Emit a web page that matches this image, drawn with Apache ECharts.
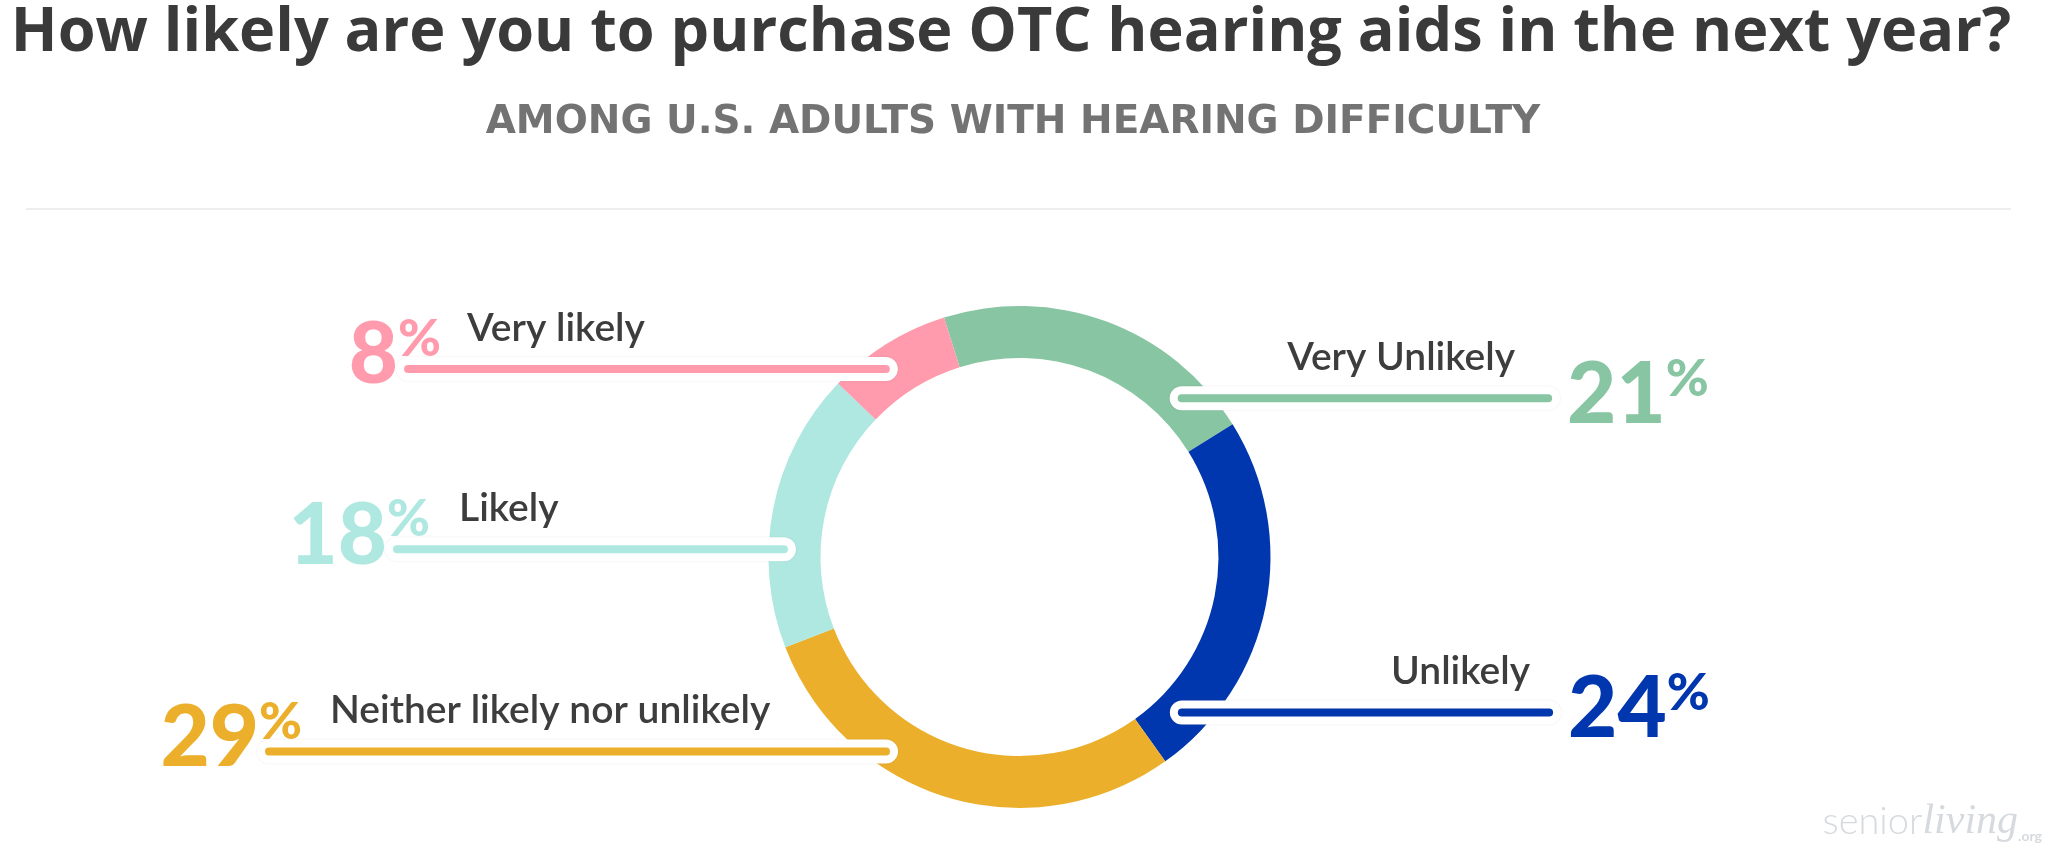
<!DOCTYPE html>
<html><head><meta charset="utf-8">
<script src="https://cdn.jsdelivr.net/npm/echarts@6/dist/echarts.min.js"></script>
<style>html,body{margin:0;padding:0;background:#fff}#c{width:2048px;height:851px}</style>
</head><body><div id="c"></div>
<script>
// ---------------- data ----------------
const categories = ['Very Unlikely', 'Unlikely', 'Neither likely nor unlikely', 'Likely', 'Very likely'];
const values = [21, 24, 29, 18, 8];
const titleText = 'How likely are you to purchase OTC hearing aids in the next year?';
const subtitleText = 'AMONG U.S. ADULTS WITH HEARING DIFFICULTY';

// ---------------- styles / layout ----------------
const colors = ['#88C5A2', '#0036AE', '#EBAF2B', '#AFE8E1', '#FF9BAC'];
const side = [1, 1, -1, -1, -1];                    // label side: 1 right, -1 left
const anchorFrac = [0.835, 0.876, 0.670, 0.355, 0.378]; // where the leader leaves the slice
const anchorRadius = [0.904, 0.896, 0.940, 0.939, 0.919];
const lineEnd = [2.106, 2.110, -2.990, -2.480, -2.436]; // leader end, in outer radii from centre
const textGap = [33, 19, 61, 62, 59];
const FONT = 'Lato, "Noto Sans", sans-serif';
const TITLE_FONT = '"Open Sans", "Noto Sans", sans-serif';
const SUB_FONT = '"DejaVu Sans", "Noto Sans", sans-serif';

// font size that makes a text span a given width
function fitSize(text, weight, family, width) {
  const ctx = document.createElement('canvas').getContext('2d');
  ctx.font = weight + ' 100px ' + family;
  return 100 * width / ctx.measureText(text).width;
}
const titleSize = fitSize(titleText, 700, TITLE_FONT, 2001);
const subSize = fitSize(subtitleText, 700, SUB_FONT, 1055);

const chart = echarts.init(document.getElementById('c'), null, {renderer: 'canvas'});

function geom(p) {
  const i = p.dataIndex;
  const lay = chart.getModel().getSeriesByIndex(p.seriesIndex).getData().getItemLayout(i);
  const a = lay.startAngle + anchorFrac[i] * (lay.endAngle - lay.startAngle);
  const rr = anchorRadius[i] * lay.r;
  const ax = lay.cx + rr * Math.cos(a);
  const ay = lay.cy + rr * Math.sin(a);
  const ex = lay.cx + lineEnd[i] * lay.r;
  return {ax, ay, ex, pts: [[ax, ay], [ex, ay]]};
}

const pieBase = {
  type: 'pie',
  center: ['49.78%', '65.45%'],
  radius: [199, 251],
  startAngle: 107.5,
  clockwise: true,
  avoidLabelOverlap: false,
  silent: true,
  animation: false,
  emphasis: {disabled: true}
};

const ringData = categories.map((c, i) => ({name: c, value: values[i], itemStyle: {color: colors[i]}}));

const percentData = categories.map((c, i) => ({
  name: c, value: values[i],
  itemStyle: {color: 'rgba(0,0,0,0)'},
  label: {
    color: colors[i],
    rich: {
      n: {fontFamily: FONT, fontWeight: 900, fontSize: 85, lineHeight: 85, color: colors[i]},
      p: {fontFamily: FONT, fontWeight: 900, fontSize: 52, lineHeight: 57, verticalAlign: 'top', color: colors[i]}
    }
  },
  labelLine: {lineStyle: {color: '#ffffff', width: 24, cap: 'round', opacity: 1,
    shadowColor: 'rgba(0,0,0,0.10)', shadowBlur: 2}}
}));

const nameData = categories.map((c, i) => ({
  name: c, value: values[i],
  itemStyle: {color: 'rgba(0,0,0,0)'},
  labelLine: {lineStyle: {color: colors[i], width: 8, cap: 'round', opacity: 1}}
}));

const option = {
  backgroundColor: '#ffffff',
  title: [
    {text: titleText, left: 1011, top: 3, padding: 0, textAlign: 'center',
     textStyle: {fontFamily: TITLE_FONT, fontWeight: 700, fontSize: titleSize, color: '#3a3a3a'}},
    {text: subtitleText, left: 1013, top: 103, padding: 0, textAlign: 'center',
     textStyle: {fontFamily: SUB_FONT, fontWeight: 700, fontSize: subSize, color: '#737373'}},
    {text: '{a|senior}{b|living}{c|.org}', right: 6, bottom: 8, padding: 0,
     textStyle: {rich: {
       a: {fontFamily: FONT, fontWeight: 300, fontSize: 38, color: '#d6dade'},
       b: {fontFamily: 'serif', fontStyle: 'italic', fontWeight: 'normal', fontSize: 42, color: '#d6dade'},
       c: {fontFamily: FONT, fontSize: 14, color: '#d6dade', verticalAlign: 'bottom'}
     }}}
  ],
  graphic: [{
    type: 'line', silent: true,
    shape: {x1: 26, y1: 209, x2: 2011, y2: 209},
    style: {stroke: '#eeeeee', lineWidth: 2}
  }],
  series: [
    Object.assign({}, pieBase, {
      name: 'ring', z: 2, data: ringData,
      label: {show: false}, labelLine: {show: false},
      itemStyle: {borderWidth: 0}
    }),
    Object.assign({}, pieBase, {
      name: 'percent', z: 3, data: percentData,
      label: {show: true, position: 'outside',
        formatter: p => '{n|' + values[p.dataIndex] + '}{p|%}'},
      labelLine: {show: true, length: 10, length2: 10, smooth: false},
      labelLayout: p => {
        const g = geom(p), i = p.dataIndex;
        return side[i] > 0
          ? {x: g.ex + 19, y: g.ay - 3, align: 'left', verticalAlign: 'middle', labelLinePoints: g.pts}
          : {x: g.ex + 33, y: g.ay - 13, align: 'right', verticalAlign: 'middle', labelLinePoints: g.pts};
      }
    }),
    Object.assign({}, pieBase, {
      name: 'names', z: 4, data: nameData,
      label: {show: true, position: 'outside',
        formatter: p => categories[p.dataIndex],
        fontFamily: FONT, fontWeight: 600, fontSize: 39, color: '#3d3d3d'},
      labelLine: {show: true, length: 10, length2: 10, smooth: false},
      labelLayout: p => {
        const g = geom(p), i = p.dataIndex;
        return side[i] > 0
          ? {x: g.ex - textGap[i], y: g.ay - 41, align: 'right', verticalAlign: 'middle', labelLinePoints: g.pts}
          : {x: g.ex + textGap[i], y: g.ay - 41, align: 'left', verticalAlign: 'middle', labelLinePoints: g.pts};
      }
    })
  ]
};
chart.setOption(option);
</script>
</body></html>
